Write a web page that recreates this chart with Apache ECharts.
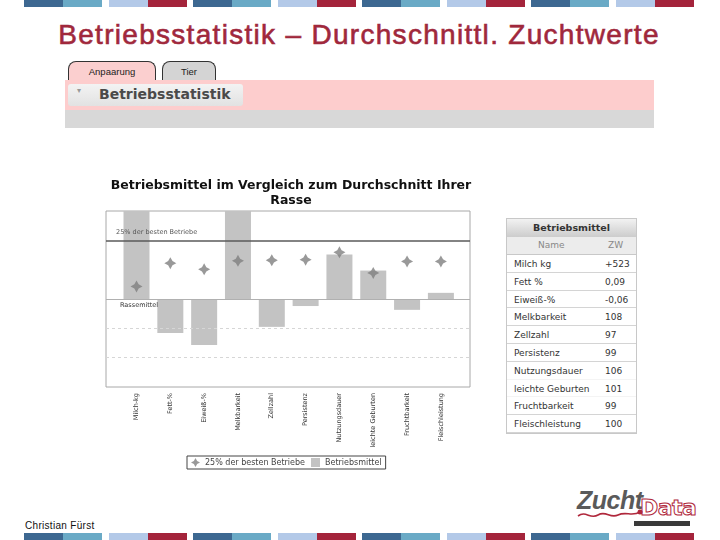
<!DOCTYPE html>
<html>
<head>
<meta charset="utf-8">
<script src="https://cdn.jsdelivr.net/npm/echarts@6/dist/echarts.min.js"></script>
<style>
html,body{margin:0;padding:0;background:#fff;width:720px;height:540px;overflow:hidden;font-family:"DejaVu Sans",sans-serif;}
.abs{position:absolute;}
#chart{position:absolute;left:0;top:0;width:720px;height:540px;z-index:2;}
.stripe{position:absolute;height:7px;}
#slideTitle{left:0;top:19px;width:718px;text-align:center;color:#a0283c;font-family:"Liberation Sans",sans-serif;font-size:28px;letter-spacing:1.3px;-webkit-text-stroke:0.6px #a0283c;}
.tab{position:absolute;top:61px;height:19px;border:1px solid #333;border-bottom:none;border-radius:8px 8px 0 0;font-family:"Liberation Sans",sans-serif;font-size:9.5px;color:#222;text-align:center;line-height:20px;box-sizing:border-box;}
#tbl{position:absolute;left:506px;top:218px;width:131px;border:1px solid #c8c8c8;box-sizing:border-box;font-family:"DejaVu Sans",sans-serif;}
#tbl .hd{height:18px;background:linear-gradient(#f2f2f2,#cccccc);font-weight:bold;font-size:9.5px;color:#333;text-align:center;line-height:18px;}
#tbl .sub{height:17px;background:#ececec;font-size:9px;color:#888;position:relative;border-bottom:1px solid #c8c8c8;}
#tbl .row{height:17.8px;font-size:9px;color:#333;position:relative;border-bottom:1px solid #d4d4d4;box-sizing:border-box;}
#tbl .row.nb{border-bottom:1px solid #f4f4f4;}
#tbl .n{position:absolute;left:7px;top:4px;}
#tbl .v{position:absolute;left:98px;top:4px;}
</style>
</head>
<body>
<div id="stripesTop"></div>
<div id="stripesBot"></div>
<div id="slideTitle" class="abs">Betriebsstatistik – Durchschnittl. Zuchtwerte</div>

<div class="tab" style="left:68px;width:88px;background:#fbcfcf;">Anpaarung</div>
<div class="tab" style="left:162px;width:54px;background:#d4d4d4;">Tier</div>
<div class="abs" style="left:65px;top:80px;width:589px;height:30px;background:#fdcdcd;"></div>
<div class="abs" style="left:68px;top:84px;width:175px;height:22px;background:linear-gradient(#f3f3f3,#e2e2e2);border-radius:3px;"></div>
<div class="abs" style="left:77px;top:86px;font-size:8px;color:#999;">▾</div>
<div class="abs" style="left:99px;top:86px;font-size:14px;font-weight:bold;color:#4a4a4a;font-family:'DejaVu Sans',sans-serif;">Betriebsstatistik</div>
<div class="abs" style="left:65px;top:110px;width:589px;height:18px;background:#d8d8d8;"></div>

<div id="tbl"></div>

<div class="abs" style="left:25px;top:520px;font-size:10px;color:#111;font-family:'Liberation Sans',sans-serif;letter-spacing:0.3px;">Christian Fürst</div>
<div class="abs" style="left:577px;top:486px;font-size:25px;font-weight:bold;font-style:italic;color:#5a5a5a;font-family:'Liberation Sans',sans-serif;letter-spacing:-0.5px;">Zucht</div>
<div class="abs" style="left:640px;top:495px;font-size:22px;color:#fff;font-family:'DejaVu Sans',sans-serif;-webkit-text-stroke:1px #b0283c;font-weight:bold;letter-spacing:-0.5px;">Data</div>
<svg class="abs" style="left:576px;top:506px;" width="70" height="16"><path d="M2,10 C10,4 14,14 22,9 C30,4 34,13 42,9 C50,5 56,11 64,6" stroke="#b0283c" stroke-width="1.6" fill="none"/><circle cx="64" cy="6" r="2.5" fill="#b0283c"/></svg>
<div class="abs" style="left:634px;top:521px;width:56px;height:5px;background:#3a3a3a;"></div>

<div id="chart"></div>
<script>
// ---- data ----
const categories = ["Milch-kg","Fett-%","Eiweiß-%","Melkbarkeit","Zellzahl","Persistenz","Nutzungsdauer","leichte Geburten","Fruchtbarkeit","Fleischleistung"];
const betriebsmittel = [3.5, -1.16, -1.57, 3.5, -0.95, -0.24, 1.52, 0.97, -0.37, 0.21];
const besten25 = [0.43, 1.22, 1.01, 1.30, 1.32, 1.34, 1.59, 0.89, 1.28, 1.28];
const besten25Line = 2;
const rassemittelLine = 0;
const gridLines = [-1, -2];
const tableNames = ["Milch kg","Fett %","Eiweiß-%","Melkbarkeit","Zellzahl","Persistenz","Nutzungsdauer","leichte Geburten","Fruchtbarkeit","Fleischleistung"];
const tableValues = ["+523","0,09","-0,06","108","97","99","106","101","99","100"];

// ---- slide decoration ----
const stripeColors = [["#3d6891","#6aaac6"],["#b3c9e8","#a4243b"]];
function stripes(id, top){
  const host = document.getElementById(id);
  for(let g=0; g<8; g++){
    const x0 = 24 + g*84.5;
    const pair = stripeColors[g%2];
    for(let h=0; h<2; h++){
      const d = document.createElement('div');
      d.className='stripe';
      d.style.left = (x0 + h*39.2)+'px';
      d.style.width = '39.2px';
      d.style.top = top+'px';
      d.style.background = pair[h];
      host.appendChild(d);
    }
  }
}
stripes('stripesTop', 0);
stripes('stripesBot', 533);

// ---- table ----
const tbl = document.getElementById('tbl');
let html = '<div class="hd">Betriebsmittel</div><div class="sub"><span style="position:absolute;left:31px;top:3px;">Name</span><span style="position:absolute;left:101px;top:3px;">ZW</span></div>';
tableNames.forEach((n,i)=>{
  const nb = (i===6 || i===7) ? ' nb' : '';
  html += '<div class="row'+nb+'"><span class="n">'+n+'</span><span class="v">'+tableValues[i]+'</span></div>';
});
tbl.innerHTML = html;

// ---- chart ----
const star = 'path://M0,-10 L3.6,-3.6 L10,0 L3.6,3.6 L0,10 L-3.6,3.6 L-10,0 L-3.6,-3.6 Z';
const chart = echarts.init(document.getElementById('chart'));
const font = 'DejaVu Sans';
chart.setOption({
  animation:false,
  title:{
    text:'Betriebsmittel im Vergleich zum Durchschnitt Ihrer\nRasse',
    left:286, top:173, textAlign:'center',
    textStyle:{fontFamily:font, fontSize:12.5, fontWeight:'bold', color:'#111', lineHeight:15}
  },
  legend:{
    left:187, top:456,
    data:[{name:'25% der besten Betriebe', icon:star},{name:'Betriebsmittel', icon:'rect'}],
    itemWidth:9, itemHeight:9, itemGap:6,
    borderColor:'#444', borderWidth:1, padding:[2,4,2,4],
    textStyle:{fontFamily:font, fontSize:8, color:'#444'}
  },
  grid:[
    {left:106, top:211, width:364, height:176, show:true, borderColor:'#a8a8a8', borderWidth:1, backgroundColor:'#fff'},
    {left:119.6, top:211, width:338.2, height:176}
  ],
  xAxis:[
    {gridIndex:0, type:'value', min:0, max:1, show:false},
    {gridIndex:1, type:'category', data:categories,
     axisLine:{show:false},
     axisTick:{alignWithLabel:true, length:4, lineStyle:{color:'#888'}},
     axisLabel:{rotate:90, fontSize:6.5, color:'#333', fontFamily:font, margin:6, interval:0}}
  ],
  yAxis:[
    {gridIndex:0, type:'value', min:-3, max:3, show:false},
    {gridIndex:1, type:'value', min:-3, max:3, show:false}
  ],
  series:[
    {name:'Betriebsmittel', type:'bar', xAxisIndex:1, yAxisIndex:1, data:betriebsmittel,
     barWidth:26, clip:true, itemStyle:{color:'#c3c3c3'}, z:2},
    {name:'25% der besten Betriebe', type:'scatter', xAxisIndex:1, yAxisIndex:1, data:besten25,
     symbol:star, symbolSize:12, itemStyle:{color:'#808080'}, z:5},
    {type:'line', xAxisIndex:0, yAxisIndex:0, data:[], z:4,
     markLine:{
       silent:true, symbol:'none',
       data:[
         {yAxis:besten25Line, lineStyle:{color:'#5a5a5a', width:1.5, type:'solid'},
          label:{show:true, formatter:'25% der besten Betriebe', position:'insideStartTop', distance:[10,5], fontSize:6.5, color:'#555', fontFamily:font}},
         {yAxis:rassemittelLine, lineStyle:{color:'#b0b0b0', width:1, type:'solid'},
          label:{show:true, formatter:'Rassemittel', position:'insideStartBottom', distance:[14,3], fontSize:6.5, color:'#333', fontFamily:font}},
         ...gridLines.map(v=>({yAxis:v, lineStyle:{color:'#d6d6d6', width:1, type:[3,3]}, label:{show:false}}))
       ]
     }}
  ]
});
</script>
</body>
</html>
